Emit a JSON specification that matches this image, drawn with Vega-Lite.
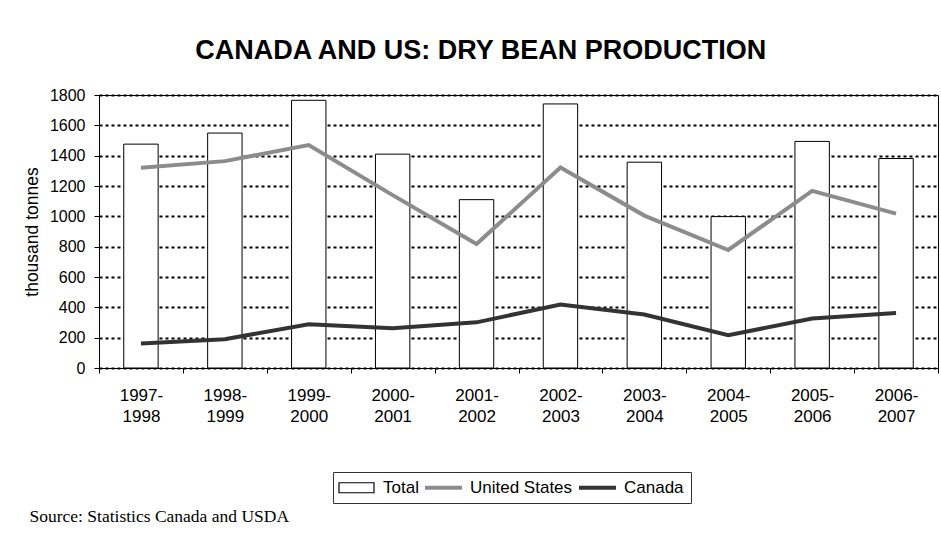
{
  "$schema": "https://vega.github.io/schema/vega-lite/v6.json",
  "width": 839,
  "height": 273,
  "autosize": {"type": "none"},
  "padding": {"left": 99, "top": 95, "right": 3, "bottom": 175},
  "background": "#ffffff",
  "title": {
    "text": "CANADA AND US: DRY BEAN PRODUCTION",
    "font": "Liberation Sans",
    "fontSize": 27,
    "fontWeight": "bold",
    "color": "#000000",
    "anchor": "middle",
    "frame": "bounds",
    "offset": 22
  },
  "config": {
    "view": {"stroke": "#000000", "strokeWidth": 1},
    "font": "Liberation Sans"
  },
  "data": {
    "values": [
      {"season": "1997-1998", "series": "Total", "value": 1476},
      {"season": "1998-1999", "series": "Total", "value": 1549},
      {"season": "1999-2000", "series": "Total", "value": 1765},
      {"season": "2000-2001", "series": "Total", "value": 1410},
      {"season": "2001-2002", "series": "Total", "value": 1110},
      {"season": "2002-2003", "series": "Total", "value": 1741},
      {"season": "2003-2004", "series": "Total", "value": 1357},
      {"season": "2004-2005", "series": "Total", "value": 998},
      {"season": "2005-2006", "series": "Total", "value": 1494},
      {"season": "2006-2007", "series": "Total", "value": 1381},
      {"season": "1997-1998", "series": "United States", "value": 1320},
      {"season": "1998-1999", "series": "United States", "value": 1364},
      {"season": "1999-2000", "series": "United States", "value": 1470},
      {"season": "2000-2001", "series": "United States", "value": 1140},
      {"season": "2001-2002", "series": "United States", "value": 817},
      {"season": "2002-2003", "series": "United States", "value": 1322},
      {"season": "2003-2004", "series": "United States", "value": 1005},
      {"season": "2004-2005", "series": "United States", "value": 778},
      {"season": "2005-2006", "series": "United States", "value": 1168},
      {"season": "2006-2007", "series": "United States", "value": 1018},
      {"season": "1997-1998", "series": "Canada", "value": 161},
      {"season": "1998-1999", "series": "Canada", "value": 190},
      {"season": "1999-2000", "series": "Canada", "value": 289},
      {"season": "2000-2001", "series": "Canada", "value": 262},
      {"season": "2001-2002", "series": "Canada", "value": 301},
      {"season": "2002-2003", "series": "Canada", "value": 419},
      {"season": "2003-2004", "series": "Canada", "value": 353},
      {"season": "2004-2005", "series": "Canada", "value": 216},
      {"season": "2005-2006", "series": "Canada", "value": 326},
      {"season": "2006-2007", "series": "Canada", "value": 363}
    ]
  },
  "encoding": {
    "x": {
      "field": "season",
      "type": "nominal",
      "sort": null,
      "scale": {"paddingInner": 0, "paddingOuter": 0},
      "axis": {
        "tickBand": "extent",
        "labelAngle": 0,
        "labelExpr": "[slice(datum.label, 0, 5), slice(datum.label, 5)]",
        "labelFont": "Liberation Sans",
        "labelFontSize": 17,
        "labelLineHeight": 21.7,
        "labelColor": "#000000",
        "labelPadding": 14,
        "tickColor": "#000000",
        "tickSize": 5,
        "domainColor": "#000000",
        "grid": false,
        "title": "Source: Statistics Canada and USDA",
        "titleFont": "Liberation Serif",
        "titleFontSize": 17.5,
        "titleFontWeight": "normal",
        "titleColor": "#000000",
        "titleAlign": "left",
        "titleBaseline": "alphabetic",
        "titleX": -70,
        "titleY": 153
      }
    },
    "y": {
      "field": "value",
      "type": "quantitative",
      "scale": {"domain": [0, 1800], "nice": false},
      "axis": {
        "values": [0, 200, 400, 600, 800, 1000, 1200, 1400, 1600, 1800],
        "format": "d",
        "labelFont": "Liberation Sans",
        "labelFontSize": 16,
        "labelColor": "#000000",
        "labelPadding": 9,
        "tickColor": "#000000",
        "tickSize": 5,
        "domain": false,
        "grid": true,
        "gridColor": "#000000",
        "gridDash": [3, 3],
        "gridWidth": 2,
        "title": "thousand tonnes",
        "titleFont": "Liberation Sans",
        "titleFontSize": 17.5,
        "titleFontWeight": "normal",
        "titleColor": "#000000",
        "titleAngle": -90,
        "titleAlign": "center",
        "titleBaseline": "alphabetic",
        "titleX": -62,
        "titleY": 136.5
      }
    }
  },
  "layer": [
    {
      "transform": [{"filter": "datum.series === 'Total'"}],
      "mark": {"type": "bar", "width": {"band": 0.41}, "fill": "#ffffff", "stroke": "#000000", "strokeWidth": 1}
    },
    {
      "transform": [{"filter": "datum.series !== 'Total'"}],
      "mark": {"type": "line", "strokeWidth": 4},
      "encoding": {
        "color": {
          "field": "series",
          "type": "nominal",
          "scale": {
            "domain": ["Total", "United States", "Canada"],
            "range": ["#000000", "#8c8c8c", "#333333"]
          },
          "legend": {
            "title": null,
            "orient": "none",
            "legendX": 234,
            "legendY": 377,
            "direction": "horizontal",
            "strokeColor": "#333333",
            "fillColor": "#ffffff",
            "padding": 7,
            "labelFont": "Liberation Sans",
            "labelFontSize": 17,
            "labelColor": "#000000",
            "labelOffset": 18,
            "symbolSize": 100,
            "symbolOffset": 8,
            "symbolStrokeWidth": 1,
            "columnPadding": -2,
            "encoding": {
              "symbols": {
                "shape": {"value": {"expr": "datum.value === 'Total' ? 'M-3.5,-1L3.5,-1L3.5,1L-3.5,1Z' : 'M-3.7,0L3.7,0'"}},
                "fill": {"value": {"expr": "datum.value === 'Total' ? '#ffffff' : 'transparent'"}},
                "stroke": {"value": {"expr": "datum.value === 'Total' ? '#000000' : (datum.value === 'United States' ? '#8c8c8c' : '#333333')"}},
                "strokeWidth": {"value": {"expr": "datum.value === 'Total' ? 1.2 : 4"}},
                "opacity": {"value": 1}
              }
            }
          }
        }
      }
    }
  ]
}
